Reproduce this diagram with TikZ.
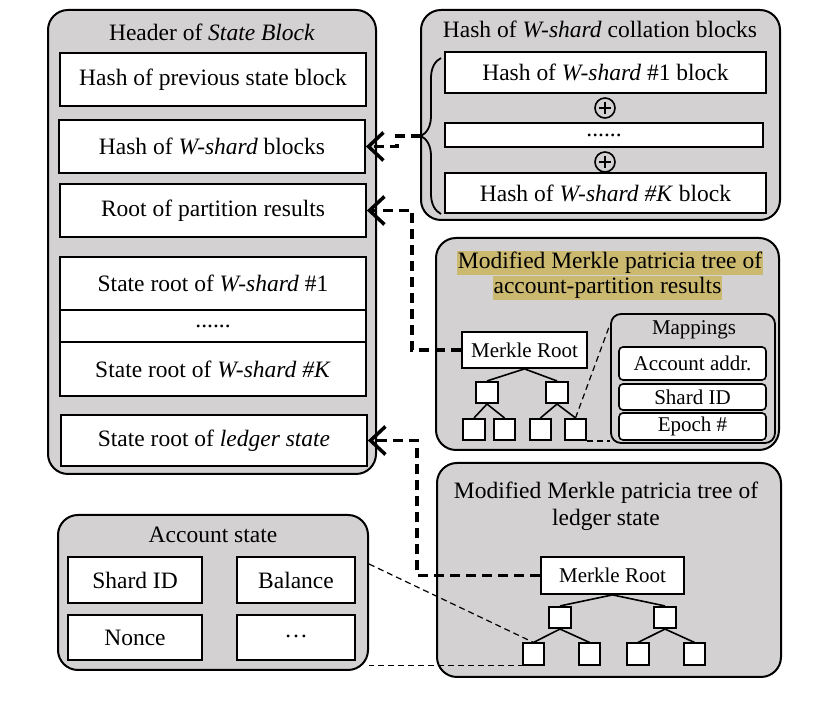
\documentclass[tikz,border=0pt]{standalone}
\usepackage{fontspec}
\setmainfont{Liberation Serif}
\usetikzlibrary{arrows.meta,calc,decorations.pathreplacing}
\definecolor{boxgray}{RGB}{211,209,210}
\definecolor{hilite}{RGB}{204,185,112}
\tikzset{
	outer/.style={draw,fill=boxgray,rounded corners=10pt,line width=1pt,inner sep=0pt},
	fld/.style={draw,fill=white,line width=0.9pt,inner sep=0pt,minimum width=153pt},
	mapfld/.style={draw,fill=white,rounded corners=2pt,line width=0.8pt,inner sep=0pt,minimum width=73.5pt,font=\small},
	leaf/.style={draw,fill=white,line width=0.8pt,inner sep=0pt,minimum size=10.75pt},
	rootbox/.style={draw,fill=white,line width=0.9pt,inner sep=0pt,minimum height=18pt,font=\small},
	xorsym/.style={draw,circle,line width=0.8pt,inner sep=0pt,minimum size=10pt,
		path picture={\draw[line width=0.6pt] ($(path picture bounding box.north)+(0,-2pt)$) -- ($(path picture bounding box.south)+(0,2pt)$)
			($(path picture bounding box.west)+(2pt,0)$) -- ($(path picture bounding box.east)+(-2pt,0)$);}},
	tree/.style={line width=0.8pt},
	conn/.style={line width=1.75pt,dash pattern=on 5pt off 3pt,-{Straight Barb[length=7.5pt,width=14pt]}},
	thin/.style={line width=0.6pt,dash pattern=on 3pt off 2pt}
}
\renewcommand{\small}{\fontsize{10.5}{12.5}\selectfont}
\begin{document}
\begin{tikzpicture}[x=0.5pt,y=-0.5pt,line cap=butt,line join=miter,font=\fontsize{11.75}{13.5}\selectfont]
	\useasboundingbox (0,0) rectangle (832,704);
	% header of the state block
	\node[outer,minimum width=164pt,minimum height=232pt] (hdr) at (212,242) {};
	\node (hdrT) at (212,32) {Header of \textit{State Block}};
	\node[fld,minimum height=26.5pt] (prevH) at (213,79.5) {Hash of previous state block};
	\node[fld,minimum height=26.5pt] (wsH) at (212,146.5) {Hash of \textit{W-shard} blocks};
	\node[fld,minimum height=26.5pt] (partR) at (213,210.5) {Root of partition results};
	\node[fld,minimum height=26.5pt] (sr1) at (213,283.5) {State root of \textit{W-shard} \#1};
	\node[fld,minimum height=16pt] (srDots) at (213,326) {......};
	\node[fld,minimum height=27pt] (srK) at (213,369) {State root of \textit{W-shard \#K}};
	\node[fld,minimum height=25.5pt] (ledgR) at (214,440.5) {State root of \textit{ledger state}};
	% collation block hashes
	\node[outer,minimum width=179.5pt,minimum height=105pt] (colB) at (600.5,115) {};
	\node (colT) at (600,29) {Hash of \textit{W-shard} collation blocks};
	\node[fld,minimum width=160.5pt,minimum height=20.5pt] (h1) at (605.5,72.5) {Hash of \textit{W-shard} \#1 block};
	\node[xorsym] (pl1) at (605,108) {};
	\node[fld,minimum width=159pt,minimum height=12pt] (hDots) at (604,135) {......};
	\node[xorsym] (pl2) at (605,162) {};
	\node[fld,minimum width=160.5pt,minimum height=20pt] (hK) at (605.5,193) {Hash of \textit{W-shard \#K} block};
	\draw[line width=0.9pt,decorate,decoration={brace,amplitude=10pt}] (441,214) -- (441,58);
	\coordinate (brtip) at (421,136);
	% partition results tree
	\node[outer,minimum width=171.5pt,minimum height=106pt] (partB) at (607.5,344) {};
	\node[fill=hilite,inner xsep=0.5pt,inner ysep=0.25pt,text height=8.5pt,text depth=3pt] (partT1) at (610,263.5) {Modified Merkle patricia tree of};
	\node[fill=hilite,inner xsep=0.5pt,inner ysep=0.25pt,text height=8.5pt,text depth=3pt] (partT2) at (607.5,288) {account-partition results};
	\node[rootbox,minimum width=62.5pt] (pRoot) at (524.5,350) {Merkle Root};
	\node[leaf] (p1) at (487,392.5) {};
	\node[leaf] (p2) at (557,392.5) {};
	\node[leaf] (p11) at (474,429.5) {};
	\node[leaf] (p12) at (504.5,429.5) {};
	\node[leaf] (p21) at (540.5,429.5) {};
	\node[leaf] (p22) at (575.5,429.5) {};
	\foreach \a/\b in {pRoot/p1,pRoot/p2,p1/p11,p1/p12,p2/p21,p2/p22}
		\draw[tree] (\a.south) -- (\b.north);
	\node[draw,fill=boxgray,rounded corners=5pt,line width=0.9pt,inner sep=0pt,minimum width=82pt,minimum height=64.5pt] (mapB) at (693,378.5) {};
	\node[font=\small] (mapT) at (694,330) {Mappings};
	\node[mapfld,minimum height=16.5pt] (mAcc) at (692.5,363.5) {Account addr.};
	\node[mapfld,minimum height=13pt] (mSid) at (692.5,397) {Shard ID};
	\node[mapfld,minimum height=13.5pt] (mEpo) at (692.5,426.5) {Epoch \#};
	\draw[thin] (p22.north) -- ($(mapB.north west)+(0,11)$);
	\draw[thin] (p22.south east) -- (mapB.west |- p22.south east);
	% ledger state tree
	\node[outer,minimum width=172pt,minimum height=107pt] (ledB) at (609,570) {};
	\node[align=center] (ledT) at (606,506) {Modified Merkle patricia tree of\\ledger state};
	\node[rootbox,minimum width=71.5pt,minimum height=18.5pt] (lRoot) at (612.5,575.5) {Merkle Root};
	\node[leaf] (l1) at (560,617.5) {};
	\node[leaf] (l2) at (665,617.5) {};
	\node[leaf] (l11) at (533.5,654) {};
	\node[leaf] (l12) at (589.5,654) {};
	\node[leaf] (l21) at (638,654) {};
	\node[leaf] (l22) at (694.5,654) {};
	\foreach \a/\b in {lRoot/l1,lRoot/l2,l1/l11,l1/l12,l2/l21,l2/l22}
		\draw[tree] (\a.south) -- (\b.north);
	% account state
	\node[outer,minimum width=155pt,minimum height=77.5pt] (accB) at (213,592.5) {};
	\node (accT) at (213,535) {Account state};
	\node[fld,minimum width=67pt,minimum height=23pt] (aSid) at (135,580) {Shard ID};
	\node[fld,minimum width=59pt,minimum height=23pt] (aBal) at (296,580) {Balance};
	\node[fld,minimum width=67pt,minimum height=22.5pt] (aNon) at (135,637.5) {Nonce};
	\node[fld,minimum width=59pt,minimum height=22.5pt] (aDots) at (296,637.5) {\raisebox{0.3ex}{…}};
	\draw[thin] ($(accB.north east)+(0,50)$) -- (l11.north);
	\draw[thin] (l11.south) -- (accB.east |- l11.south);
	% links into the header
	\draw[conn] (brtip) -- (397,136) |- (wsH.east);
	\draw[conn] (pRoot.west) -- ++(-49,0) |- (partR.east);
	\draw[conn] (lRoot.west) -- ++(-123,0) |- (ledgR.east);
\end{tikzpicture}
\end{document}
